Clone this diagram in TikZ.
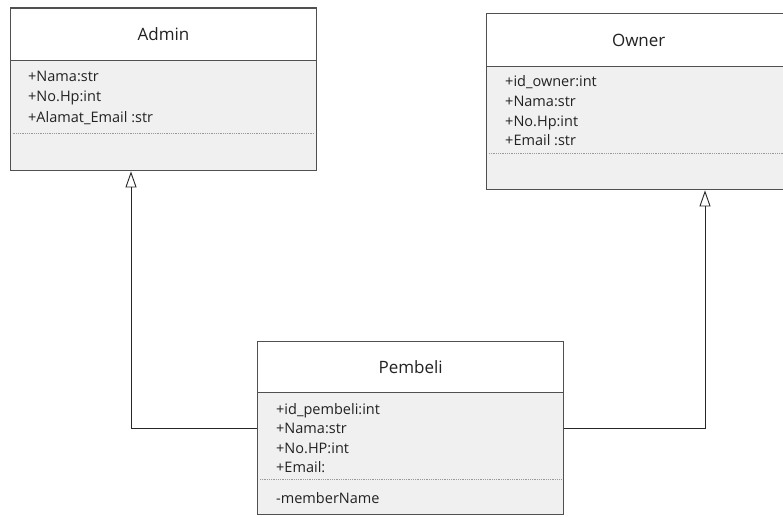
\documentclass[tikz,border=0pt]{standalone}
\usepackage{fontspec}
\setmainfont{Open Sans}
\usetikzlibrary{arrows.meta}
\definecolor{boxline}{HTML}{505050}
\definecolor{bodyfill}{HTML}{F0F0F0}
\definecolor{txt}{HTML}{222222}
\tikzset{
  hdr/.style={draw=boxline, line width=1.4pt, fill=white, anchor=north west, inner sep=0pt,
              font=\fontsize{17}{19}\selectfont, text=txt},
  bdy/.style={draw=boxline, line width=1.4pt, fill=bodyfill, anchor=north west, inner sep=0pt},
  attr/.style={anchor=base west, inner sep=0pt, font=\fontsize{14.5}{16}\selectfont, text=txt},
  sep/.style={draw=gray!80, line width=0.8pt, densely dotted},
  gen/.style={draw=black!85, line width=0.9pt, -{Triangle[open, length=16pt, width=11pt, fill=white, line width=0.9pt]}},
}
\begin{document}
\begin{tikzpicture}[x=1pt, y=-1pt]
\useasboundingbox (0,0) rectangle (783,516);
\fill[white] (0,0) rectangle (783,516);

% Admin
\node[bdy, minimum width=306.5pt, minimum height=110pt] (adminB) at (9.5,60) {};
\node[hdr, minimum width=306.5pt, minimum height=52.5pt] (adminH) at (9.5,7.5) {Admin};
\node[attr] (a1) at (28,82) {+Nama:str};
\node[attr] (a2) at (28,102) {+No.Hp:int};
\node[attr] (a3) at (28,122) {+Alamat\_Email :str};
\draw[sep] ([xshift=3pt]adminB.west |- 0,133) -- ([xshift=-3pt]adminB.east |- 0,133);

% Owner
\node[bdy, minimum width=304pt, minimum height=123pt] (ownerB) at (486,66) {};
\node[hdr, minimum width=304pt, minimum height=53pt] (ownerH) at (486,13) {Owner};
\node[attr] (o1) at (505,87) {+id\_owner:int};
\node[attr] (o2) at (505,106.5) {+Nama:str};
\node[attr] (o3) at (505,126) {+No.Hp:int};
\node[attr] (o4) at (505,145) {+Email :str};
\draw[sep] ([xshift=3pt]ownerB.west |- 0,153) -- ([xshift=-3pt]ownerB.east |- 0,153);

% Pembeli
\node[bdy, minimum width=306pt, minimum height=122pt] (pembB) at (257,392) {};
\node[hdr, minimum width=306pt, minimum height=51pt] (pembH) at (257,341) {Pembeli};
\node[attr] (p1) at (276,414) {+id\_pembeli:int};
\node[attr] (p2) at (276,433) {+Nama:str};
\node[attr] (p3) at (276,453) {+No.HP:int};
\node[attr] (p4) at (276,472) {+Email:};
\node[attr] (p5) at (276,503) {-memberName};
\draw[sep] ([xshift=3pt]pembB.west |- 0,479) -- ([xshift=-3pt]pembB.east |- 0,479);

% generalisations
\coordinate (jl) at (131,428);
\coordinate (jr) at (705,428);
\draw[gen] (pembB.west |- jl) -| (adminB.south -| jl);
\draw[gen] (pembB.east |- jr) -| (ownerB.south -| jr);
\end{tikzpicture}
\end{document}
